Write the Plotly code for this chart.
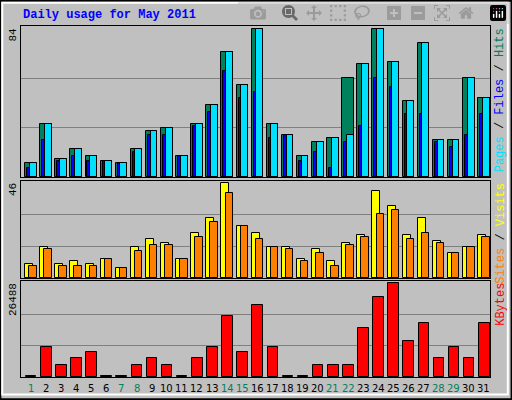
import plotly.graph_objects as go

days = list(range(1, 32))
weekend = [1, 7, 8, 14, 15, 21, 22, 28, 29]

hits = [8, 30, 10, 16, 12, 9, 8, 16, 26, 28, 12, 30, 41, 71, 52, 84, 30, 24, 12, 20, 22, 56, 64, 84, 65, 43, 76, 21, 21, 56, 45]
files = [8, 30, 10, 16, 12, 9, 8, 16, 26, 28, 12, 30, 41, 71, 52, 84, 30, 24, 12, 20, 22, 24, 64, 84, 65, 43, 76, 21, 21, 56, 45]
pages = [5, 21, 9, 12, 9, 9, 8, 14, 24, 24, 12, 29, 37, 60, 45, 48, 22, 24, 9, 14, 5, 20, 29, 56, 51, 36, 36, 20, 17, 24, 36]
sites = [7, 15, 7, 8, 7, 9, 5, 15, 19, 17, 9, 22, 29, 46, 25, 22, 15, 15, 9, 14, 8, 17, 21, 42, 35, 21, 29, 18, 12, 15, 21]
visits = [6, 14, 6, 6, 6, 9, 5, 13, 16, 16, 9, 20, 27, 41, 25, 19, 15, 14, 8, 12, 6, 16, 20, 31, 33, 19, 22, 17, 12, 15, 20]
kbytes = [150, 8440, 3490, 5240, 6980, 150, 150, 3490, 5240, 3490, 150, 5240, 8440, 17170, 6980, 20370, 8440, 150, 150,
          3490, 3490, 3490, 13680, 22410, 26488, 10190, 15130, 5240, 8440, 5240, 15130]

bg = "#C0C0C0"
font = "Liberation Mono"
line = dict(color="black", width=1)

fig = go.Figure()


def bar(y, color, offset, width, axis):
    fig.add_trace(go.Bar(x=days, y=y, marker=dict(color=color, line=line),
                         offset=offset, width=width, xaxis="x" + axis, yaxis="y" + axis,
                         hoverinfo="y"))


bar(hits, "#00805C", -0.38, 0.76, "")
bar(files, "#00E0FF", -0.07, 0.45, "")
bar(pages, "#0000FF", -0.25, 0.18, "")
bar(sites, "#FFFF00", -0.38, 0.53, "2")
bar(visits, "#FF8000", -0.11, 0.49, "2")
bar(kbytes, "#FF0000", -0.33, 0.7, "3")

xax = dict(range=[0.35, 31.4], showticklabels=False, showgrid=False, zeroline=False,
           showline=True, mirror=True, linecolor="black", linewidth=1, fixedrange=True)


def yax(mx, dom, anchor):
    return dict(domain=dom, range=[0, mx * 1.02], tickvals=[mx / 3, 2 * mx / 3], showticklabels=False,
                ticks="", showgrid=True, gridcolor="#808080", gridwidth=1, zeroline=False,
                showline=True, mirror=True, linecolor="black", linewidth=1, anchor=anchor)


fig.update_layout(
    width=512, height=400, paper_bgcolor=bg, plot_bgcolor=bg, showlegend=False,
    barmode="overlay", bargap=0, margin=dict(l=21, r=22, t=0, b=0),
    xaxis=dict(xax, anchor="y"), xaxis2=dict(xax, anchor="y2", matches="x"),
    xaxis3=dict(xax, anchor="y3", matches="x"),
    yaxis=yax(max(hits), [0.5575, 0.935], "x"),
    yaxis2=yax(max(sites), [0.305, 0.5475], "x2"),
    yaxis3=yax(max(kbytes), [0.0575, 0.2975], "x3"),
    font=dict(family=font, size=12, color="black"),
)

ann = [
    dict(x=-0.0, y=0.9625, xref="paper", yref="paper", text="<b>Daily usage for May 2011</b>",
         showarrow=False, xanchor="left", yanchor="middle", font=dict(color="#0000FF", size=12)),
    dict(x=-0.018, y=0.935, xref="paper", yref="paper", text=str(max(hits)), textangle=-90,
         showarrow=False, xanchor="center", yanchor="top", font=dict(size=11)),
    dict(x=-0.018, y=0.5475, xref="paper", yref="paper", text=str(max(sites)), textangle=-90,
         showarrow=False, xanchor="center", yanchor="top", font=dict(size=11)),
    dict(x=-0.018, y=0.2975, xref="paper", yref="paper", text=str(max(kbytes)), textangle=-90,
         showarrow=False, xanchor="center", yanchor="top", font=dict(size=11)),
    dict(x=1.022, y=0.935, xref="paper", yref="paper", textangle=-90, showarrow=False,
         xanchor="center", yanchor="top", font=dict(size=12),
         text="<span style='color:#00E0FF'>Pages</span> / <span style='color:#0000FF'>Files</span>"
              " / <span style='color:#00805C'>Hits</span>"),
    dict(x=1.022, y=0.5475, xref="paper", yref="paper", textangle=-90, showarrow=False,
         xanchor="center", yanchor="top", font=dict(size=12),
         text="<span style='color:#FF8000'>Sites</span> / <span style='color:#FFFF00'>Visits</span>"),
    dict(x=1.022, y=0.2975, xref="paper", yref="paper", textangle=-90, showarrow=False,
         xanchor="center", yanchor="top", font=dict(size=12),
         text="<span style='color:#FF0000'>KBytes</span>"),
]
for d in days:
    ann.append(dict(x=d, y=0.03, xref="x3", yref="paper", text=str(d), showarrow=False,
                    yanchor="middle", font=dict(family="DejaVu Sans", size=10,
                                                color="#00805C" if d in weekend else "black")))
fig.update_layout(annotations=ann)

# bevelled frame
fig.update_layout(shapes=[
    dict(type="rect", xref="paper", yref="paper", x0=-0.044, x1=1.046, y0=0.002, y1=0.998,
         line=dict(color="black", width=2)),
    dict(type="rect", xref="paper", yref="paper", x0=-0.040, x1=1.038, y0=0.014, y1=0.993,
         line=dict(color="white", width=2)),
])

fig.write_html("out.html", post_script="document.body.style.margin='0';")
